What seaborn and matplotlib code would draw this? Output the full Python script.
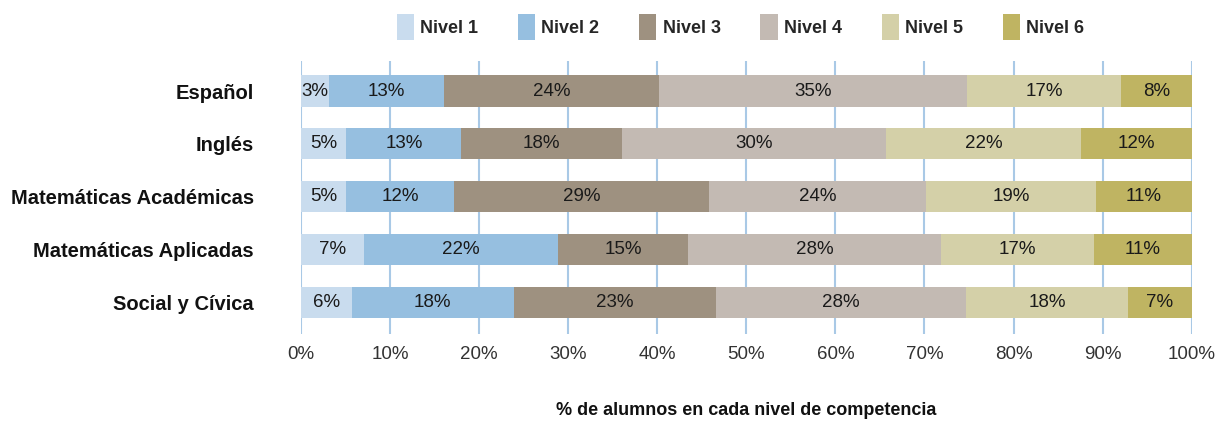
import pandas as pd
import matplotlib.pyplot as plt
import seaborn as sns

# data (% of students per level)
materias = ['Español', 'Inglés', 'Matemáticas Académicas', 'Matemáticas Aplicadas', 'Social y Cívica']
niveles = ['Nivel 1', 'Nivel 2', 'Nivel 3', 'Nivel 4', 'Nivel 5', 'Nivel 6']
nivel_1 = [3.1, 5.1, 5.1, 7.1, 5.7]
nivel_2 = [13.0, 12.9, 12.1, 21.8, 18.2]
nivel_3 = [24.1, 18.0, 28.6, 14.6, 22.7]
nivel_4 = [34.6, 29.7, 24.4, 28.4, 28.1]
nivel_5 = [17.3, 21.9, 19.1, 17.1, 18.2]
nivel_6 = [7.9, 12.4, 10.7, 11.0, 7.1]
colores = ['#c9dcee', '#96bfe0', '#9e9180', '#c3bab3', '#d4d0a8', '#bfb462']

df = pd.DataFrame({'materia': materias, 'Nivel 1': nivel_1, 'Nivel 2': nivel_2, 'Nivel 3': nivel_3,
                   'Nivel 4': nivel_4, 'Nivel 5': nivel_5, 'Nivel 6': nivel_6})
acum = df[niveles].cumsum(axis=1)

sns.set_theme(style='white')
plt.rcParams['font.family'] = ['Liberation Sans', 'DejaVu Sans']

fig = plt.figure(figsize=(12.16, 4.24), dpi=100)
ax = fig.add_axes([0.2475, 0.2123, 0.7325, 0.6439])

# stacked bars: draw cumulative totals from the last level to the first
for nivel, color in reversed(list(zip(niveles, colores))):
    sns.barplot(x=acum[nivel], y=df['materia'], color=color, width=0.59,
                saturation=1, linewidth=0, ax=ax, label=nivel, zorder=2)

# value labels centred in each segment
for i in range(len(materias)):
    izq = 0
    for nivel in niveles:
        v = df[nivel][i]
        ax.text(izq + v / 2, i, f'{v:.0f}%', ha='center', va='center',
                fontsize=13.5, color='#1a1a1a', zorder=3)
        izq += v

ax.set_xlim(0, 100)
ax.set_ylim(4.6, -0.57)
ax.set_xticks(range(0, 101, 10))
ax.set_xticklabels([f'{t}%' for t in range(0, 101, 10)])
ax.xaxis.grid(True, color='#a9c9e6', linewidth=1.5, zorder=0)
ax.set_axisbelow(True)
for s in ax.spines.values():
    s.set_visible(False)
ax.tick_params(axis='x', length=0, pad=9, labelsize=13.5, labelcolor='#333333')
ax.tick_params(axis='y', length=0, pad=34)
for lab in ax.get_yticklabels():
    lab.set_fontweight('bold')
    lab.set_fontsize(14.5)
    lab.set_color('#111111')
ax.set_ylabel('')
ax.set_xlabel('% de alumnos en cada nivel de competencia', fontsize=13,
              fontweight='bold', color='#111111')
ax.xaxis.set_label_coords(0.5, -0.25)

handles, labels = ax.get_legend_handles_labels()
orden = [labels.index(n) for n in niveles]
fig.legend([handles[k] for k in orden], [labels[k] for k in orden],
           loc='center', bbox_to_anchor=(0.609, 0.936), ncol=6, frameon=False,
           handlelength=0.95, handleheight=1.9, handletextpad=0.35, columnspacing=2.2,
           prop={'weight': 'bold', 'size': 13})
if ax.legend_:
    ax.legend_.remove()

fig.savefig('out.png', dpi=100)
